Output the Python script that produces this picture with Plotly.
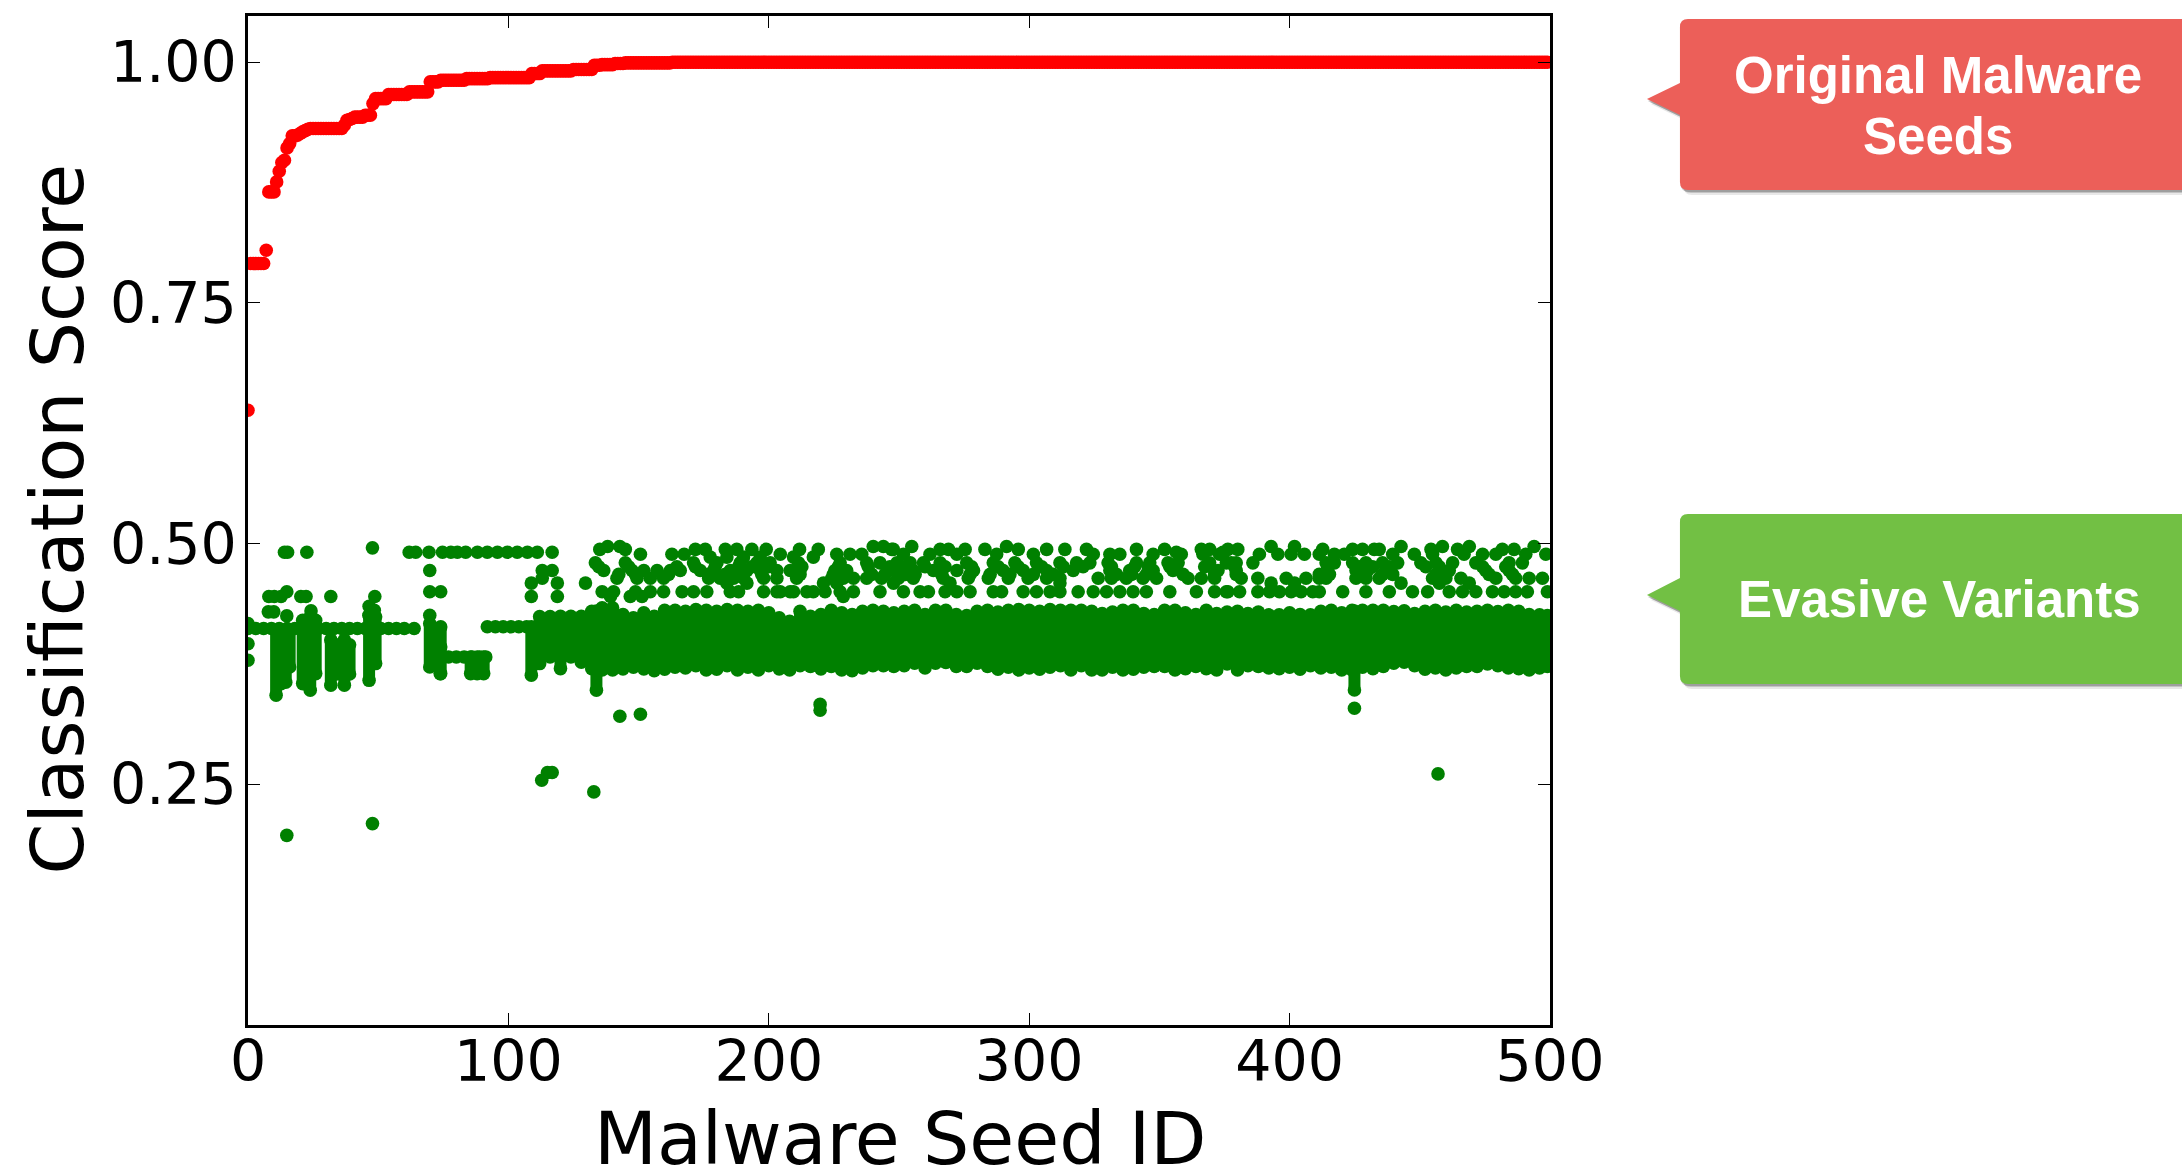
import plotly.graph_objects as go

# ---------- chart text ----------
x_title = "Malware Seed ID"
y_title = "Classification Score"
x_ticks = [0, 100, 200, 300, 400, 500]
y_ticks = [0.25, 0.50, 0.75, 1.00]
y_tick_labels = ["0.25", "0.50", "0.75", "1.00"]

# ---------- original seeds: one score per seed ----------
seed_scores = ([.6385] + [.7909]*6 + [.8047] + [.8653]*3 + [.8757, .8868, .8958, .8982, .911, .9155, .9235, .9235,
               .9242, .926, .9276, .929, .9304] + [.9311]*13 + [.9345, .9397, .9405, .9415] + [.943]*4 + [.9449]*3 +
               [.957] + [.9622]*5 + [.9664]*8 + [.9692]*8 + [.9796]*4 + [.9813]*10 + [.983]*9 + [.984]*16 +
               [.9882]*4 + [.991]*12 + [.9924]*8 + [.9969]*3 + [.9975]*5 + [.9986]*4 + [.9993]*18 + [1.0]*337)
seed_ids = list(range(len(seed_scores)))

# ---------- evasive variants: dense band, one column per seed group ----------
band_x = [112,116,120,124,128,132,136,140,144,148,152,156,160,164,168,172,176,180,184,188,192,196,200,204,208,212,216,
          220,224,228,232,236,240,244,248,252,256,260,264,268,272,276,280,284,288,292,296,300,304,308,312,316,320,324,
          328,332,336,340,344,348,352,356,360,364,368,372,376,380,384,388,392,396,400,404,408,412,416,420,424,428,432,
          436,440,444,448,452,456,460,464,468,472,476,480,484,488,492,496,499]
band_top = [.4243,.4243,.4246,.4246,.4246,.4298,.4333,.4333,.4263,.4229,.4281,.4246,.4308,.4308,.4298,.4315,.4308,.4298,
            .4315,.4308,.4298,.4308,.4281,.4229,.4194,.4298,.4246,.4263,.4308,.4281,.4263,.4298,.4308,.4298,.4281,.4298,
            .4308,.4263,.4308,.4308,.4263,.4253,.4298,.4308,.4288,.4308,.4315,.4308,.4298,.4315,.4308,.4308,.4308,.4298,
            .4274,.4288,.4308,.4308,.4274,.4263,.4308,.4308,.4281,.4263,.4308,.4274,.4288,.4298,.4274,.4288,.426,.426,
            .4281,.4263,.426,.4298,.4308,.4281,.4308,.4308,.4308,.4308,.4294,.4301,.4274,.4298,.4308,.4288,.4308,.4288,
            .4298,.4308,.4294,.4308,.4298,.4263,.426,.4253]
band_low = [.3754,.3823,.3702,.3823,.3768,.3700,.3688,.3688,.3699,.3716,.3699,.3681,.3695,.3716,.3709,.3733,.3688,.3695,
            .3733,.3688,.3716,.3688,.3733,.3699,.3688,.3733,.3723,.3699,.3723,.3688,.3681,.3709,.3733,.3733,.3723,.3733,
            .3758,.3709,.3758,.3765,.3723,.3723,.3758,.3723,.3695,.3716,.3688,.3709,.3695,.3716,.3733,.3688,.3733,.3688,
            .3688,.3716,.3688,.3695,.3716,.3723,.3723,.3688,.3702,.3723,.3702,.3688,.375,.3688,.3733,.3723,.3709,.3702,
            .3716,.3695,.3733,.3709,.3716,.3688,.3688,.3716,.3702,.3723,.3758,.3768,.3733,.3695,.3709,.3688,.3709,.3723,
            .3723,.375,.3733,.3709,.3702,.3688,.3709,.3723]

# vertical stacks of variants at the low seed numbers
stack_x = [10.8,12.7,14.5,16,21,23.9,26,31.8,34,37,39,46.5,49,69.8,74,85.5,88,90.5,108.8,133.8,424.9]
stack_top = [.41,.41,.41,.41,.4204,.4239,.4204,.40,.395,.40,.395,.4256,.4239,.417,.4135,.3823,.3823,.3823,.4136,.43,.43]
stack_low = [.3425,.3546,.356,.3719,.3546,.3477,.365,.3529,.3645,.3529,.3645,.358,.3754,.3719,.365,.365,.365,.365,.3633,.3477,.348]

# horizontal runs at fixed scores
row_4118_x = [0,3,6,9,12,15,18,21,24,27,30,33,36,39,42,45,48,51,54,57,60,63.8]
row_4136_x = [91.9,95,98,101,104,107]
row_3823_x = [74,77,80,83,86,89,91.3]

# upper scatter, grouped by score level
lvl_497 = [138.1,142.8,240.1,244,254.9,291.3,392.9,401.9,442.8,458.7,469,493.9]
lvl_494 = [135.1,144.9,171.8,175.6,183.3,187.7,193.5,199,211.8,219,247.8,247.2,265.8,269,275.4,283,295.8,306.7,313.7,322,
           341.2,352,366.1,369.3,376.3,380.1,412.7,424.2,428,432.5,434.4,454.3,464.5,481.7,486.2]
lvl_491 = [61.9,64.4,69.5,74.7,77.9,80.4,83.6,88.1,91.9,95.8,99.6,103.4,107.3,111.1,116.8,14,15.2,22.6,356.5,374.4]
lvl_489 = [150.7,162.8,167.5,204.4,226.1,231.2,235.7,251.7,261.9,272.2,287.5,301.6,324.6,331,334.8,347.6,358.4,366.7,373.1,
           374.4,388.4,395.5,400.6,405.7,411.4,417.2,421,439.6,447.9,454.9,467,474.1,479.2,490.7,498.4]
lvl_486 = [177.5,183.9,190.3,196.7,209.5,217.1]
lvl_480 = [133.4,144.9,171.1,180.1,189,195.4,200.5,211.4,227.4,237.6,242.7,249.2,254.3,259.4,265.8,276,286.2,294.5,302.8,
           311.8,318.2,323.3,330.3,341.2,346.3,353.3,357.2,369.3,375.7,377.6,379.5,385.9,414,417.2,424.2,429.3,435.7,
           441.5,450.4,456.2,462.6,471.5,484.3,489.4]
lvl_476 = [134.7,146.2,164.7,171.8,179.4,188.4,193.5,199.9,212.7,226.7,238.2,246.5,251,260,267.7,277.9,288.1,295.8,304.8,
           313.1,320.7,331.6,340.5,345.7,354,367.4,378.9,414.6,426.8,431.9,438.3,452.3,457.5,474.1,483]
lvl_472 = [136.6,147.5,152,157.1,162.2,166,173.7,178.8,185.2,191.6,196.7,203.1,208.2,225.4,229.9,246.5,249.2,255.5,263.2,
           272.2,278.6,290,297.7,306.7,316.9,331,338.6,347.6,355.2,372.5,379.5,425.5,430,438.3,457.5,461.3,475.3,484.3,
           113,116.8,69.8]
lvl_468 = [142.4,148.8,161.5,176.9,183.3,189.7,197.3,212,224.8,239.5,244.6,252.4,256.2,266.4,277.3,285,292.6,301.6,309.2,
           333.5,339.3,345,359.1,371.2,379.5,411.4,415.3,426.8,435.7,439.6,456.2,460,476.6,485.6]
lvl_464 = [141.7,149.4,154.5,159.6,176.9,181.3,186.5,190.3,198,203.1,210.7,224.2,228.6,232.5,237.6,243.3,249.8,255.5,267,
           276.6,284.3,292,299.6,306.7,311.8,326.5,331.6,337.3,343.7,348.9,361,366.1,371.2,381.4,387.8,398.7,406.3,411.4,
           414,425.5,429.3,434.4,454.9,460,465.8,479.2,486.8,492,497.1,113]
lvl_459 = [129.6,247.9,269.6,311.8,392.9,401.9,442.8,457.5,469,108.8,118.8,183.9,191.6,221,226.1]
lvl_450 = [136,140.4,148.8,154.5,159.6,166.7,171.1,176.2,185.2,188.4,198,203.1,204.4,208.2,209.5,214.6,217.1,221.6,227.4,
           232.5,242.7,251.7,258.1,261.3,267.7,272.2,277.3,286.2,289.4,297.7,302.8,308,311.8,318.8,324.6,329.7,334.8,
           339.9,345,354,364.2,371.2,376.3,375.7,380.8,387.8,392.3,396.1,400.6,404.4,408.9,411.4,420.4,429.3,438.3,
           447.2,453,461.3,466.4,471.5,477.9,482.4,486.8,491.3,499,69.8,74,14.9]
lvl_445 = [8,10.1,12.7,31.8,108.8,118.8,20.3,22.3,48.7,139.2,146.8,151.3,228.6]

# loose variants
loose_x = [0,0,0,7.8,9.9,14.9,24.2,46.5,46.5,48.5,69.8,74,73.8,14.9,47.8,47.8,112.8,115,116.8,132.8,142.8,150.7,219.7,219.7,424.9,457]
loose_y = [.417,.396,.3789,.4291,.4291,.4249,.4301,.435,.4256,.4308,.4256,.3927,.365,.197,.2092,.4956,.2542,.2622,.2622,.2421,.3207,.3228,.333,.327,.329,.2608]

# ---------- styling ----------
W, H = 2182, 1171
L, R, T, B = 247.5, 1550, 16, 1025
MS = 13.6
GREEN = "#008000"
RED = "#ff0000"


def px(x):
    return (x - L) / (R - L)


def py(y):
    return (B - y) / (B - T)


fig = go.Figure()

# band + stacks as thick columns
col_x, col_y = [], []
for xs, hi, lo in ((band_x, band_top, band_low), (stack_x, stack_top, stack_low)):
    for a, b, c in zip(xs, hi, lo):
        col_x += [a, a, None]
        col_y += [b, c, None]
fig.add_trace(go.Scatter(x=col_x, y=col_y, mode="lines", line=dict(color=GREEN, width=12), showlegend=False,
                         hoverinfo="skip"))

pts_x = band_x + band_x + stack_x + stack_x + loose_x
pts_y = band_top + band_low + stack_top + stack_low + loose_y
for level, xs in ((.4118, row_4118_x), (.4136, row_4136_x), (.3823, row_3823_x), (.497, lvl_497), (.494, lvl_494),
                  (.491, lvl_491), (.489, lvl_489), (.486, lvl_486), (.480, lvl_480), (.476, lvl_476), (.472, lvl_472),
                  (.468, lvl_468), (.464, lvl_464), (.459, lvl_459), (.450, lvl_450), (.445, lvl_445)):
    pts_x += xs
    pts_y += [level] * len(xs)
fig.add_trace(go.Scatter(x=pts_x, y=pts_y, mode="markers", marker=dict(color=GREEN, size=MS), showlegend=False,
                         name="Evasive Variants"))
fig.add_trace(go.Scatter(x=seed_ids, y=seed_scores, mode="markers", marker=dict(color=RED, size=MS), showlegend=False,
                         name="Original Malware Seeds"))


def callout(top, bottom, tip_y, base_top, base_low, colour):
    x0, x1, tip, r = 1680, W + 10, 1647, 8
    def path(dx, dy):
        c = lambda a, b: f"{px(a + dx)},{py(b + dy)}"
        return (f"M {c(x0 + r, top)} L {c(x1, top)} L {c(x1, bottom)} L {c(x0 + r, bottom)} "
                f"Q {c(x0, bottom)} {c(x0, bottom - r)} L {c(x0, base_low)} L {c(tip, tip_y)} L {c(x0, base_top)} "
                f"L {c(x0, top + r)} Q {c(x0, top)} {c(x0 + r, top)} Z")
    out = []
    for dx, dy, op in ((4, 5, .12), (3, 3, .22), (1, 2, .3)):
        out.append(dict(type="path", xref="paper", yref="paper", path=path(dx, dy), fillcolor="#444444",
                        opacity=op, line=dict(width=0), layer="above"))
    out.append(dict(type="path", xref="paper", yref="paper", path=path(0, 0), fillcolor=colour,
                    line=dict(width=0), layer="above"))
    return out


shapes = callout(19, 190, 99, 83, 115, "#EC5F59") + callout(514, 684, 595, 578, 611, "#72C044")

labels = [("Original Malware", 1938, 75), ("Seeds", 1938, 136), ("Evasive Variants", 1940, 600)]
annotations = [dict(text=t, x=px(x), y=py(y), xref="paper", yref="paper", showarrow=False, xanchor="center",
                    yanchor="middle", font=dict(family="Liberation Sans", size=51, color="white", weight="bold"))
               for t, x, y in labels]
annotations.append(dict(text=x_title, x=px(900), y=py(1138), xref="paper", yref="paper", showarrow=False,
                        xanchor="center", yanchor="middle", font=dict(family="DejaVu Sans", size=73, color="black")))
annotations.append(dict(text=y_title, x=px(56), y=py(519), xref="paper", yref="paper", showarrow=False, textangle=-90,
                        xanchor="center", yanchor="middle", font=dict(family="DejaVu Sans", size=73, color="black")))

axis = dict(showgrid=False, zeroline=False, showline=True, mirror="ticks", linecolor="black", linewidth=2.5,
            ticks="inside", ticklen=12, tickwidth=1.4, tickcolor="black",
            tickfont=dict(family="DejaVu Sans", size=57, color="black"))
fig.update_layout(
    width=W, height=H, margin=dict(l=L, r=W - R, t=T, b=H - B, autoexpand=False), autosize=False,
    paper_bgcolor="white", plot_bgcolor="white", showlegend=False, shapes=shapes, annotations=annotations,
    xaxis=dict(axis, range=[0, 500], tickvals=x_ticks, ticktext=[str(v) for v in x_ticks], ticklabelstandoff=-15),
    yaxis=dict(axis, range=[0, 1.048], tickvals=y_ticks, ticktext=y_tick_labels, ticklabelstandoff=-3),
)
fig.write_html("out.html", config={"displayModeBar": False},
               post_script="document.body.style.margin='0';document.body.style.overflow='hidden';")
